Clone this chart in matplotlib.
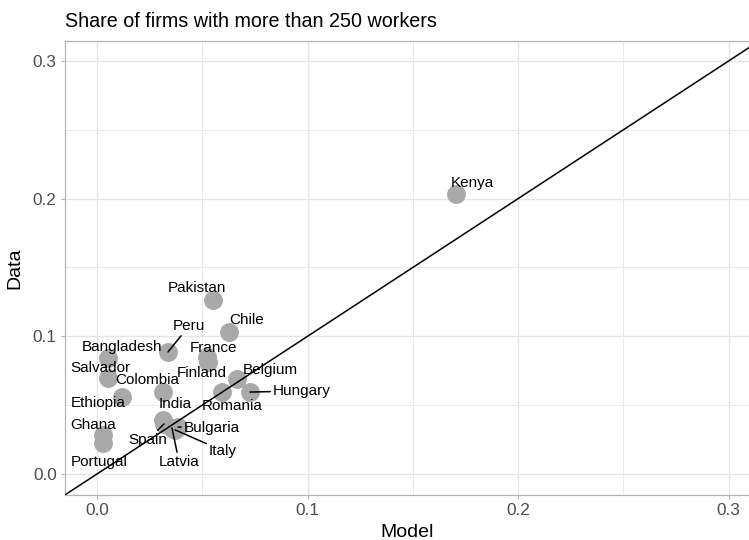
import matplotlib.pyplot as plt
import numpy as np

plt.rcParams['font.family'] = ['Liberation Sans', 'DejaVu Sans']

countries = ["Kenya", "Pakistan", "Chile", "Peru", "Bangladesh", "Salvador",
             "Colombia", "Ethiopia", "Ghana", "Portugal", "France", "Finland",
             "Belgium", "Hungary", "Romania", "India", "Spain", "Bulgaria",
             "Italy", "Latvia"]
model = [0.1705, 0.0551, 0.0627, 0.0337, 0.0052, 0.0052,
         0.0314, 0.0119, 0.0029, 0.0029, 0.0523, 0.0527,
         0.0665, 0.0727, 0.0594, 0.0314, 0.0318, 0.0385,
         0.0371, 0.0356]
data = [0.2033, 0.1264, 0.1031, 0.0886, 0.0842, 0.0697,
        0.0595, 0.0559, 0.0283, 0.0225, 0.0850, 0.0813,
        0.0690, 0.0595, 0.0595, 0.0392, 0.0363, 0.0341,
        0.0320, 0.0334]

# where the repelled labels ended up (data units)
label_x = [0.1781, 0.0475, 0.0713, 0.0437, 0.0119, 0.0014,
           0.0238, 0.0005, -0.0019, 0.0010, 0.0551, 0.0499,
           0.0822, 0.0974, 0.0641, 0.0371, 0.0242, 0.0546,
           0.0599, 0.0390]
label_y = [0.2113, 0.1351, 0.1118, 0.1075, 0.0922, 0.0770,
           0.0683, 0.0516, 0.0356, 0.0087, 0.0915, 0.0733,
           0.0755, 0.0603, 0.0494, 0.0508, 0.0247, 0.0334,
           0.0167, 0.0087]
with_segment = {"Peru", "Hungary", "Spain", "Latvia", "Italy", "Bulgaria"}

ticks = [0.0, 0.1, 0.2, 0.3]
minor_ticks = [0.05, 0.15, 0.25]

fig = plt.figure(figsize=(7.49, 5.40), dpi=100)
ax = fig.add_axes([0.0868, 0.0833, 0.9146, 0.8407])

ax.scatter(model, data, s=185, color='#A9A9A9', linewidths=0, zorder=2)
ax.axline((0, 0), slope=1, color='black', lw=1.1, zorder=3)

for name, mx, my, lx, ly in zip(countries, model, data, label_x, label_y):
    if name in with_segment:
        ax.annotate(name, xy=(mx, my), xytext=(lx, ly), ha='center', va='center',
                    fontsize=11, zorder=4,
                    arrowprops=dict(arrowstyle='-', color='black', lw=1.1,
                                    shrinkA=0, shrinkB=0))
    else:
        ax.text(lx, ly, name, ha='center', va='center', fontsize=11, zorder=4)

ax.set_xlim(-0.0152, 0.3102)
ax.set_ylim(-0.0153, 0.3145)
ax.set_xticks(ticks)
ax.set_yticks(ticks)
ax.set_xticks(minor_ticks, minor=True)
ax.set_yticks(minor_ticks, minor=True)
ax.set_xticklabels(['0.0', '0.1', '0.2', '0.3'])
ax.set_yticklabels(['0.0', '0.1', '0.2', '0.3'])

ax.grid(which='major', color='#E6E6E6', lw=1.0, zorder=0)
ax.grid(which='minor', color='#E9E9E9', lw=0.7, zorder=0)
ax.set_axisbelow(True)
ax.tick_params(which='major', length=3, width=0.8, color='#B3B3B3',
               labelsize=12.4, labelcolor='#4D4D4D', pad=3)
ax.tick_params(which='minor', length=0)
for sp in ax.spines.values():
    sp.set_color('#B3B3B3')
    sp.set_linewidth(0.9)

ax.set_xlabel('Model', fontsize=14, labelpad=4)
ax.set_ylabel('Data', fontsize=14, labelpad=7)
ax.set_title('Share of firms with more than 250 workers', loc='left',
             fontsize=14.2, pad=10)

fig.savefig('out.png', dpi=100)
